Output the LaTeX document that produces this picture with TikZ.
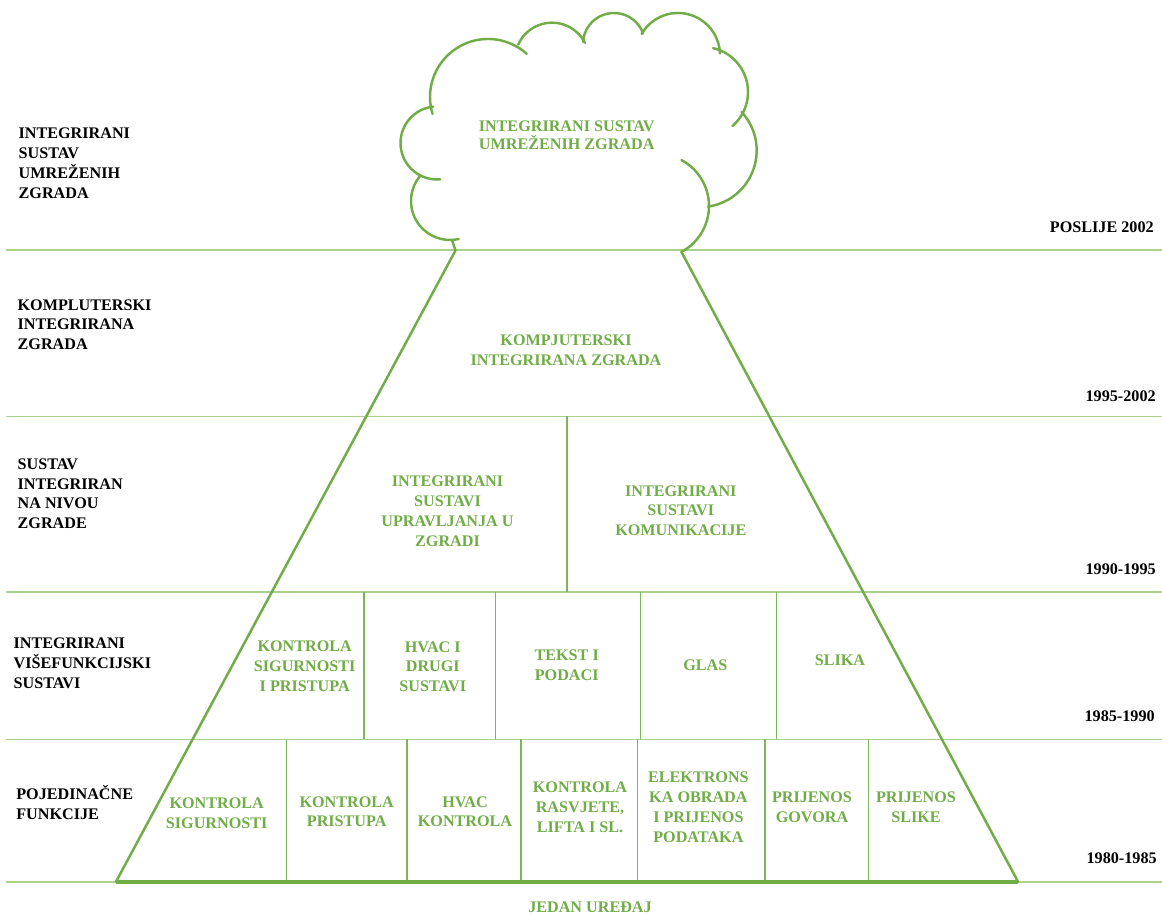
\documentclass[tikz,border=0pt]{standalone}
\usepackage{fontspec}
\setmainfont{Liberation Serif}
\definecolor{gr}{HTML}{70AD47}
\definecolor{lgr}{HTML}{A9D18E}
\definecolor{vgr}{HTML}{7DB65A}
\newcommand{\labfont}{\fontsize{9.2}{11.34}\selectfont\bfseries}
\begin{document}
\begin{tikzpicture}[x=0.02cm,y=0.02cm,
  hl/.style={draw=lgr, line width=1.1pt},
  vl/.style={draw=vgr, line width=1pt},
  ol/.style={draw=gr, line width=1.4pt, line cap=round, line join=round},
  gt/.style={text=gr, font=\labfont, align=center, inner sep=0pt},
  lt/.style={text=black, font=\labfont, align=left, anchor=west, inner sep=0pt},
  dt/.style={text=black, font=\labfont, anchor=east, inner sep=0pt}]
\useasboundingbox (0,0) rectangle (1162,915);
\fill[white] (0,0) rectangle (1162,915);
% band lines
\foreach \yy/\nm in {665/h1,498.5/h2,323.3/h3,175.5/h4,33.3/h5}{
  \coordinate (\nm l) at (6,\yy);
  \coordinate (\nm r) at (1162,\yy);
  \draw[hl] (\nm l) -- (\nm r);
}
% vertical dividers
\draw[vl] (567,498.5) -- (567,323.3);
\foreach \xx in {364,495.5,640.5,776.5}{\draw[vl] (\xx,323.3) -- (\xx,175.5);}
\foreach \xx in {286.5,407,521,637.5,765,868.5}{\draw[vl] (\xx,175.5) -- (\xx,33.3);}
% trapezoid
\coordinate (la) at (452,675.1);
\coordinate (lt) at (455.5,664.5);
\coordinate (lb) at (116,33.3);
\coordinate (rt) at (681.4,663.1);
\coordinate (rb) at (1018,33.3);
\draw[ol] (la) -- (lt) -- (lb);
\draw[ol] (rt) -- (rb);
\draw[draw=gr, line width=2.3pt] (lb) -- (rb);
% cloud
\draw[ol] ([shift={(139:39)}]450,714) arc[start angle=139,end angle=283,radius=39];
\draw[ol] ([shift={(96:36.5)}]437,772) arc[start angle=96,end angle=275,radius=36.5];
\draw[ol] ([shift={(197:58)}]488,818) arc[start angle=197,end angle=48,radius=58];
\draw[ol] ([shift={(156:37)}]552,855.3) arc[start angle=156,end angle=27,radius=37];
\draw[ol] ([shift={(176:31)}]614,871) arc[start angle=176,end angle=20,radius=31];
\draw[ol] ([shift={(150:42)}]678,860) arc[start angle=150,end angle=2,radius=42];
\draw[ol] ([shift={(77:45)}]703,823) arc[start angle=77,end angle=-49,radius=45];
\draw[ol] ([shift={(43:56.7)}]700,764.5) arc[start angle=43,end angle=-82,radius=56.7];
\draw[ol] ([shift={(62:52)}]657,709) arc[start angle=62,end angle=-62,radius=52];
% green texts
\node[gt, font=\fontsize{9.2}{9.8}\selectfont\bfseries] (cl) at (566.7,779.7) {INTEGRIRANI SUSTAV\\UMREŽENIH ZGRADA};
\node[gt] (kiz) at (566,564.7) {KOMPJUTERSKI\\INTEGRIRANA ZGRADA};
\node[gt] (isu) at (447.5,404) {INTEGRIRANI\\SUSTAVI\\UPRAVLJANJA U\\ZGRADI};
\node[gt] (isk) at (680.8,404.3) {INTEGRIRANI\\SUSTAVI\\KOMUNIKACIJE};
\node[gt] (ksip) at (304.7,249) {KONTROLA\\SIGURNOSTI\\I PRISTUPA};
\node[gt] (hvds) at (432.8,248.3) {HVAC I\\DRUGI\\SUSTAVI};
\node[gt] (tp) at (566.7,250) {TEKST I\\PODACI};
\node[gt] (glas) at (705.3,250) {GLAS};
\node[gt] (slika) at (840,254.3) {SLIKA};
\node[gt] (ks) at (216.7,102) {KONTROLA\\SIGURNOSTI};
\node[gt] (kp) at (346.7,103.3) {KONTROLA\\PRISTUPA};
\node[gt] (hk) at (465,103.3) {HVAC\\KONTROLA};
\node[gt] (krl) at (580,108) {KONTROLA\\RASVJETE,\\LIFTA I SL.};
\node[gt] (eop) at (698.4,108) {ELEKTRONS\\KA OBRADA\\I PRIJENOS\\PODATAKA};
\node[gt] (pg) at (812,107.5) {PRIJENOS\\GOVORA};
\node[gt] (ps) at (916,107.5) {PRIJENOS\\SLIKE};
\node[gt] (ju) at (590,7.5) {JEDAN UREĐAJ};
% left labels
\node[lt] (l1) at (18.3,751.5) {INTEGRIRANI\\SUSTAV\\UMREŽENIH\\ZGRADA};
\node[lt] (l2) at (17.3,590.3) {KOMPLUTERSKI\\INTEGRIRANA\\ZGRADA};
\node[lt] (l3) at (17.3,421.3) {SUSTAV\\INTEGRIRAN\\NA NIVOU\\ZGRADE};
\node[lt] (l4) at (13.3,251.3) {INTEGRIRANI\\VIŠEFUNKCIJSKI\\SUSTAVI};
\node[lt] (l5) at (16,112) {POJEDINAČNE\\FUNKCIJE};
% dates
\node[dt] (d1) at (1154,688.1) {POSLIJE 2002};
\node[dt] (d2) at (1156,518.7) {1995-2002};
\node[dt] (d3) at (1156,346) {1990-1995};
\node[dt] (d4) at (1155,198.5) {1985-1990};
\node[dt] (d5) at (1157,57) {1980-1985};
\end{tikzpicture}
\end{document}
